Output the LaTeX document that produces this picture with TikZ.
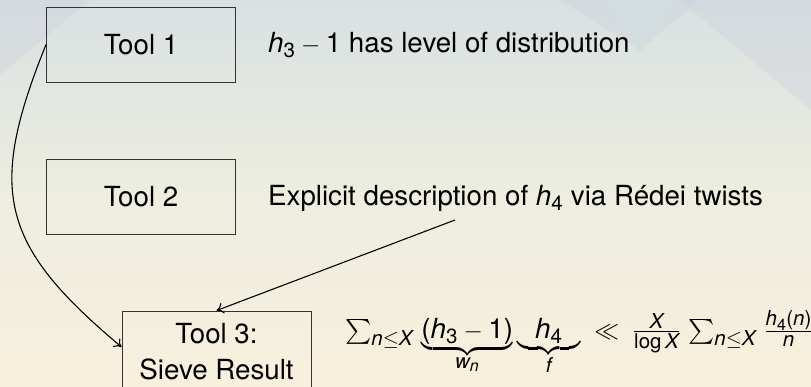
\documentclass[tikz,border=0pt]{standalone}
\usepackage{amsmath}
\usepackage[no-math]{fontspec}
\setmainfont{TeX Gyre Heros}[NFSSFamily=heros]
\DeclareSymbolFont{operators}{TU}{heros}{m}{n}
\SetSymbolFont{operators}{bold}{TU}{heros}{b}{n}
\DeclareSymbolFont{hvit}{TU}{heros}{m}{it}
\DeclareMathSymbol{h}{\mathalpha}{hvit}{`h}
\DeclareMathSymbol{n}{\mathalpha}{hvit}{`n}
\DeclareMathSymbol{w}{\mathalpha}{hvit}{`w}
\DeclareMathSymbol{f}{\mathalpha}{hvit}{`f}
\DeclareMathSymbol{X}{\mathalpha}{hvit}{`X}
\DeclareMathSizes{27.7}{27.7}{20.5}{16}
\usetikzlibrary{arrows.meta}
\definecolor{bgtop}{HTML}{D8E1E2}
\definecolor{bgmid}{HTML}{EDEDE0}
\definecolor{bgbot}{HTML}{F8F0DC}
\definecolor{boxline}{HTML}{333333}
\definecolor{lav}{HTML}{CDCEDC}
\definecolor{teal1}{HTML}{CFE3E0}
\begin{document}
\begin{tikzpicture}[x=1pt,y=-1pt,
  font=\fontsize{27.7}{36}\selectfont,
  toolbox/.style={draw=boxline, line width=0.9pt, inner sep=0pt, minimum width=189pt, minimum height=75pt, align=center},
  txt/.style={anchor=base west, inner sep=0pt},
  tri/.style={fill opacity=0.35},
  arr/.style={-{To[length=7pt,width=11pt]}, line width=1.1pt, black}]
  \useasboundingbox (0,0) rectangle (811,386);
  \shade[top color=bgtop, bottom color=bgbot, middle color=bgmid] (0,0) rectangle (811,386);
  % faint background triangles
  \fill[tri, lav] (680,0) -- (811,0) -- (811,110) -- cycle;
  \fill[tri, lav] (560,0) -- (700,0) -- (640,50) -- cycle;
  \fill[tri, teal1] (600,0) -- (680,0) -- (640,55) -- cycle;
  \fill[tri, lav] (0,0) -- (90,0) -- (0,75) -- cycle;
  \node[toolbox] (t1) at (141,44.5) {Tool 1};
  \node[toolbox] (t2) at (141,197) {Tool 2};
  \node[toolbox, minimum height=82pt] (t3) at (216.5,352) {Tool 3:\\Sieve Result};
  \node[txt] (d1) at (268,52) {$h_3 - 1$ has level of distribution};
  \node[txt] (d2) at (268,205) {Explicit description of $h_4$ via Rédei twists};
  \node[txt] (f) at (345,338) {$\sum_{n\le X}\,\underbrace{(h_3-1)}_{w_n}\underbrace{\hspace{0.65em}h_4\hspace{0.65em}}_{f}\;\ll\;\frac{X}{\log X}\,\sum_{n\le X}\,\frac{h_4(n)}{n}$};
  \coordinate (s2) at (455,220);
  \draw[arr] (s2) -- (t3.north);
  \draw[arr] (t1.west) to[out=-112,in=140,looseness=1.3] ([yshift=5pt]t3.west);
\end{tikzpicture}
\end{document}
